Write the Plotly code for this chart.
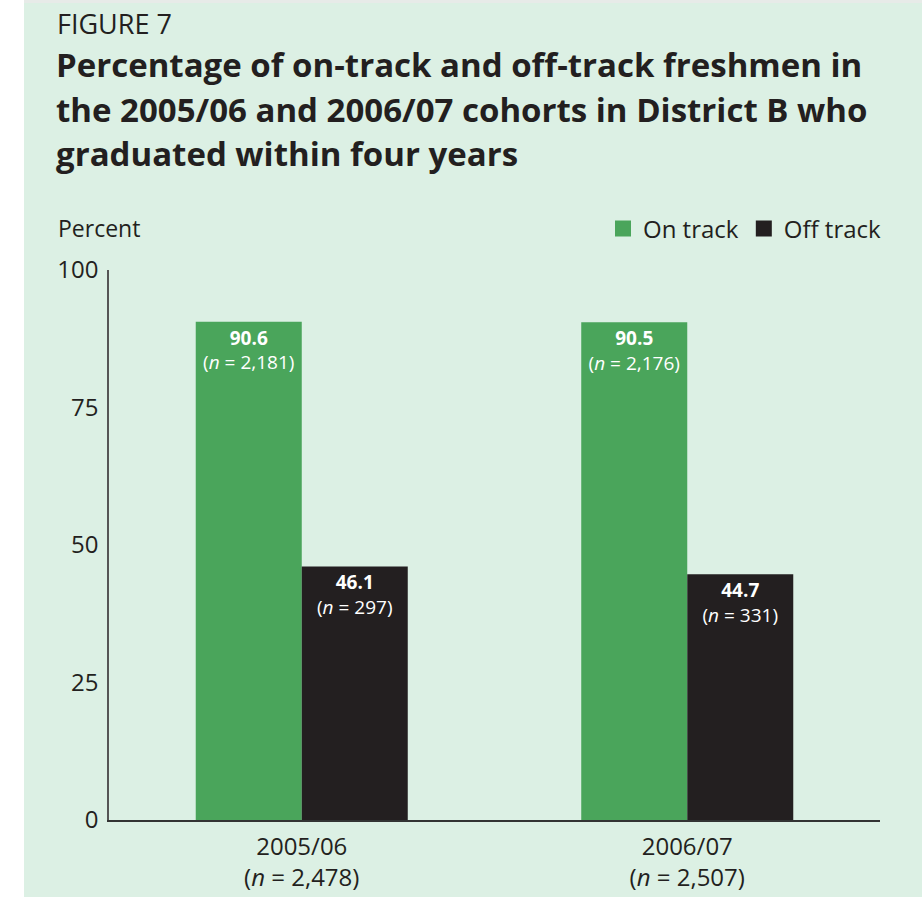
import plotly.graph_objects as go

# ---- data ----
cohorts = ["2005/06", "2006/07"]
cohort_n = ["2,478", "2,507"]
series_names = ["On track", "Off track"]
on_track = [90.6, 90.5]
on_track_n = ["2,181", "2,176"]
off_track = [46.1, 44.7]
off_track_n = ["297", "331"]
y_ticks = [0, 25, 50, 75, 100]
figure_label = "FIGURE 7"
title_lines = [
    "Percentage of on-track and off-track freshmen in",
    "the 2005/06 and 2006/07 cohorts in District B who",
    "graduated within four years",
]
y_title = "Percent"

# ---- layout geometry (pixels) ----
FW, FH = 922, 897
L, R, T, B = 109, 880, 270, 820
W, H = R - L, B - T


def px2x(px):
    return (px - L) / W


def px2y(py):
    return (B - py) / H


FONT = "Open Sans"
MINT = "#dcf0e4"
GREEN = "#4aa55b"
BLACK = "#231f20"
TXT = "#231f20"

x_labels = [f"{c}<br>(<i>n</i> = {n})" for c, n in zip(cohorts, cohort_n)]
on_text = [f"<b>{v}</b><br>(<i>n</i> = {n})" for v, n in zip(on_track, on_track_n)]
off_text = [f"<b>{v}</b><br>(<i>n</i> = {n})" for v, n in zip(off_track, off_track_n)]

fig = go.Figure()
for name, vals, txt, col in [
    (series_names[0], on_track, on_text, GREEN),
    (series_names[1], off_track, off_text, BLACK),
]:
    fig.add_trace(go.Bar(
        x=x_labels, y=vals, name=name, text=txt,
        textposition="inside", insidetextanchor="end", textangle=0,
        textfont=dict(family=FONT, size=19, color="white"),
        marker=dict(color=col, line=dict(width=0)),
        showlegend=False, hoverinfo="skip",
    ))
    fig.add_trace(go.Scatter(
        x=[None], y=[None], mode="markers", name=name,
        marker=dict(symbol="square", size=16, color=col),
        showlegend=True,
    ))

annotations = [
    dict(text=figure_label, x=px2x(55), y=px2y(23), xref="paper", yref="paper",
         xanchor="left", yanchor="middle", showarrow=False,
         font=dict(family=FONT, size=27, color=TXT)),
    dict(text=y_title, x=px2x(56), y=px2y(228), xref="paper", yref="paper",
         xanchor="left", yanchor="middle", showarrow=False,
         font=dict(family=FONT, size=23, color=TXT)),
]
for i, line in enumerate(title_lines):
    annotations.append(dict(
        text=f"<b>{line}</b>", x=px2x(54), y=px2y(65 + 44 * i),
        xref="paper", yref="paper", xanchor="left", yanchor="middle",
        showarrow=False, font=dict(family=FONT, size=33, color=TXT)))

shapes = [
    dict(type="rect", xref="paper", yref="paper", x0=px2x(0), x1=px2x(24),
         y0=px2y(FH), y1=px2y(0), fillcolor="white", line=dict(width=0), layer="below"),
    dict(type="rect", xref="paper", yref="paper", x0=px2x(24), x1=px2x(FW),
         y0=px2y(3), y1=px2y(0), fillcolor="#e7ebe8", line=dict(width=0), layer="below"),
]

fig.update_layout(
    width=FW, height=FH,
    margin=dict(l=L, r=FW - R, t=T, b=FH - B, pad=0, autoexpand=False),
    paper_bgcolor=MINT, plot_bgcolor=MINT,
    barmode="group", bargap=0.45, bargroupgap=0,
    font=dict(family=FONT, color=TXT),
    legend=dict(orientation="h", x=px2x(887), xanchor="right", y=px2y(229), yanchor="middle",
                font=dict(family=FONT, size=24, color=TXT), bgcolor="rgba(0,0,0,0)",
                itemclick=False, traceorder="normal"),
    annotations=annotations, shapes=shapes,
)
fig.update_xaxes(type="category", showline=True, linecolor="#333333", linewidth=2,
                 ticks="", showgrid=False, zeroline=False, ticklabelstandoff=4,
                 automargin=False,
                 tickfont=dict(family=FONT, size=24, color=TXT))
fig.update_yaxes(range=[0, 100], tickvals=y_ticks, showline=True, linecolor="#555555",
                 linewidth=1.5, ticks="", showgrid=False, zeroline=False,
                 ticklabelstandoff=4, automargin=False,
                 tickfont=dict(family=FONT, size=24, color=TXT))

fig.write_html("out.html")
